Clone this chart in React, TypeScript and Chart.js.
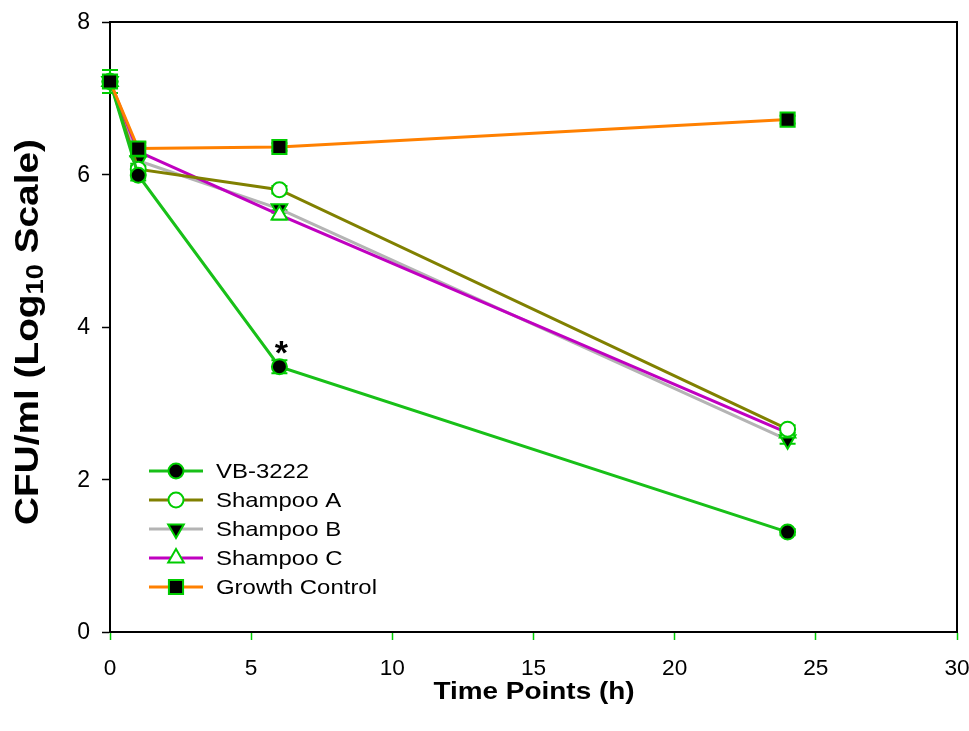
import React, { useEffect, useRef } from 'react';
import { Chart, registerables } from 'chart.js';

Chart.register(...registerables);

const timePoints = [0, 1, 6, 24];
const seriesNames = ['VB-3222', 'Shampoo A', 'Shampoo B', 'Shampoo C', 'Growth Control'];
const vb3222 = [7.22, 5.99, 3.48, 1.31];
const shampooA = [7.22, 6.07, 5.8, 2.66];
const shampooB = [7.22, 6.18, 5.55, 2.52];
const shampooC = [7.22, 6.3, 5.47, 2.61];
const growthControl = [7.22, 6.34, 6.36, 6.72];
const vb3222Err = [0.15, 0.07, 0.085, 0.04];
const shampooAErr = [0.15, 0.07, 0.05, 0.05];
const shampooBErr = [0.15, 0.07, 0.05, 0.05];
const shampooCErr = [0.15, 0.07, 0.06, 0.05];
const growthControlErr = [0.15, 0.08, 0.05, 0.05];
const xAxisTitle = 'Time Points (h)';
const yAxisTitleMain = 'CFU/ml (Log';
const yAxisTitleSub = '10';
const yAxisTitleEnd = ' Scale)';
const asteriskTime = 6;
const asteriskValue = 3.48;

const lineColors = ['#18c018', '#808000', '#b4b4b4', '#c000c0', '#ff8000'];
const markerFills = ['#000000', '#ffffff', '#000000', '#ffffff', '#000000'];
const markerStyles = ['circle', 'circle', 'triangle', 'triangle', 'rect'];
const markerRotations = [0, 0, 180, 0, 0];
const markerRadius = [7.5, 7.5, 9, 9, 10];
const drawOrder = [1, 2, 4, 3, 0];
const markerBorder = '#00cc00';
const FONT = "'Liberation Sans', Arial, sans-serif";
const STRETCH = 1.14;

const seriesValues = [vb3222, shampooA, shampooB, shampooC, growthControl];
const seriesErrors = [vb3222Err, shampooAErr, shampooBErr, shampooCErr, growthControlErr];

function drawMarker(ctx: CanvasRenderingContext2D, style: string, x: number, y: number, r: number, fill: string, stroke: string, rotation: number) {
  ctx.save();
  ctx.beginPath();
  if (style === 'circle') {
    ctx.arc(x, y, r, 0, Math.PI * 2);
  } else if (style === 'rect') {
    const s = r * Math.SQRT1_2;
    ctx.rect(x - s, y - s, 2 * s, 2 * s);
  } else if (style === 'triangle') {
    let rad = (rotation * Math.PI) / 180;
    const step = (2 * Math.PI) / 3;
    ctx.moveTo(x + Math.sin(rad) * r, y - Math.cos(rad) * r);
    rad += step;
    ctx.lineTo(x + Math.sin(rad) * r, y - Math.cos(rad) * r);
    rad += step;
    ctx.lineTo(x + Math.sin(rad) * r, y - Math.cos(rad) * r);
    ctx.closePath();
  }
  ctx.fillStyle = fill;
  ctx.fill();
  ctx.lineWidth = 2;
  ctx.strokeStyle = stroke;
  ctx.stroke();
  ctx.restore();
}

// draw text stretched horizontally
function stretchedText(ctx: CanvasRenderingContext2D, text: string, x: number, y: number, align: string, sx: number) {
  ctx.save();
  ctx.translate(x, y);
  ctx.scale(sx, 1);
  ctx.textAlign = align as CanvasTextAlign;
  ctx.fillText(text, 0, 0);
  ctx.restore();
}

const decorPlugin = {
  id: 'decor',
  beforeDatasetsDraw(chart: any) {
    const ctx = chart.ctx as CanvasRenderingContext2D;
    const xs = chart.scales.x;
    const ys = chart.scales.y;
    ctx.save();
    ctx.strokeStyle = markerBorder;
    ctx.lineWidth = 2;
    seriesValues.forEach((vals, si) => {
      vals.forEach((v, i) => {
        const e = seriesErrors[si][i];
        const px = xs.getPixelForValue(timePoints[i]);
        const y1 = ys.getPixelForValue(v + e);
        const y2 = ys.getPixelForValue(v - e);
        ctx.beginPath();
        ctx.moveTo(px, y1);
        ctx.lineTo(px, y2);
        ctx.moveTo(px - 8, y1);
        ctx.lineTo(px + 8, y1);
        ctx.moveTo(px - 8, y2);
        ctx.lineTo(px + 8, y2);
        ctx.stroke();
      });
    });
    ctx.restore();
  },
  afterDraw(chart: any) {
    const ctx = chart.ctx as CanvasRenderingContext2D;
    const a = chart.chartArea;
    const xs = chart.scales.x;
    const ys = chart.scales.y;
    ctx.save();
    // frame top & right
    ctx.strokeStyle = '#000000';
    ctx.lineWidth = 2;
    ctx.beginPath();
    ctx.moveTo(a.left, a.top);
    ctx.lineTo(a.right, a.top);
    ctx.lineTo(a.right, a.bottom);
    ctx.stroke();

    // x tick labels
    ctx.fillStyle = '#000000';
    ctx.font = `22px ${FONT}`;
    ctx.textBaseline = 'middle';
    xs.ticks.forEach((t: any) => {
      stretchedText(ctx, String(t.value), xs.getPixelForValue(t.value), 669, 'center', 1.03);
    });
    // y tick labels
    ctx.font = `23px ${FONT}`;
    ys.ticks.forEach((t: any) => {
      stretchedText(ctx, String(t.value), 90, ys.getPixelForValue(t.value) + 1, 'right', 1.0);
    });

    // asterisk
    ctx.font = `bold 34px ${FONT}`;
    ctx.textAlign = 'center';
    ctx.textBaseline = 'alphabetic';
    ctx.fillText('*', xs.getPixelForValue(asteriskTime) + 2, ys.getPixelForValue(asteriskValue) - 3);

    // legend
    const lx0 = 149;
    const lx1 = 203;
    const rows = [471, 500, 529, 558, 587];
    seriesNames.forEach((name, i) => {
      const y = rows[i];
      ctx.strokeStyle = lineColors[i];
      ctx.lineWidth = 3;
      ctx.beginPath();
      ctx.moveTo(lx0, y);
      ctx.lineTo(lx1, y);
      ctx.stroke();
      drawMarker(ctx, markerStyles[i], (lx0 + lx1) / 2, y, markerRadius[i], markerFills[i], markerBorder, markerRotations[i]);
      ctx.fillStyle = '#000000';
      ctx.font = `21px ${FONT}`;
      ctx.textBaseline = 'middle';
      stretchedText(ctx, name, 216, y + 1, 'left', STRETCH);
    });

    // x title
    ctx.font = `bold 24.5px ${FONT}`;
    ctx.textBaseline = 'middle';
    stretchedText(ctx, xAxisTitle, 534, 692, 'center', STRETCH);

    // y title with subscript (rotated; stretched along reading direction)
    ctx.translate(29, 332);
    ctx.rotate(-Math.PI / 2);
    ctx.scale(1.14, 1);
    const mainFont = `bold 34px ${FONT}`;
    const subFont = `bold 24px ${FONT}`;
    ctx.font = mainFont;
    const w1 = ctx.measureText(yAxisTitleMain).width;
    const w3 = ctx.measureText(yAxisTitleEnd).width;
    ctx.font = subFont;
    const w2 = ctx.measureText(yAxisTitleSub).width;
    const total = w1 + w2 + w3;
    let cx = -total / 2;
    ctx.textAlign = 'left';
    ctx.textBaseline = 'middle';
    ctx.font = mainFont;
    ctx.fillText(yAxisTitleMain, cx, 0);
    cx += w1;
    ctx.font = subFont;
    ctx.fillText(yAxisTitleSub, cx, 7);
    cx += w2;
    ctx.font = mainFont;
    ctx.fillText(yAxisTitleEnd, cx, 0);
    ctx.restore();
  },
};

export default function App() {
  const ref = useRef<HTMLCanvasElement | null>(null);
  useEffect(() => {
    if (!ref.current) return;
    const datasets = seriesNames.map((name, i) => ({
      label: name,
      data: timePoints.map((t, j) => ({ x: t, y: seriesValues[i][j] })),
      borderColor: lineColors[i],
      borderWidth: 3,
      backgroundColor: markerFills[i],
      pointBackgroundColor: markerFills[i],
      pointBorderColor: markerBorder,
      pointBorderWidth: 2,
      pointStyle: markerStyles[i],
      pointRotation: markerRotations[i],
      pointRadius: markerRadius[i],
      pointHoverRadius: markerRadius[i],
      tension: 0,
      fill: false,
      clip: false,
      order: drawOrder[i],
    }));
    const chart = new Chart(ref.current, {
      type: 'line',
      data: { datasets: datasets as any },
      plugins: [decorPlugin],
      options: {
        animation: false,
        responsive: false,
        devicePixelRatio: 1,
        layout: { padding: { top: 22, right: 12, left: 0, bottom: 0 } },
        plugins: { legend: { display: false }, tooltip: { enabled: false } },
        scales: {
          x: {
            type: 'linear',
            min: 0,
            max: 30,
            afterFit: (s: any) => { s.height = 99; s.paddingLeft = 0; s.paddingRight = 0; },
            ticks: { stepSize: 5, display: false },
            grid: { display: true, drawOnChartArea: false, drawTicks: true, tickLength: 8, tickColor: '#00cc00', tickWidth: 1.5, color: '#00cc00' },
            border: { display: true, color: '#000000', width: 2 },
          },
          y: {
            type: 'linear',
            min: 0,
            max: 8,
            afterFit: (s: any) => { s.width = 110; s.paddingTop = 0; s.paddingBottom = 0; },
            ticks: { stepSize: 2, display: false },
            grid: { display: true, drawOnChartArea: false, drawTicks: true, tickLength: 8, tickColor: '#000000', tickWidth: 1.5, color: '#000000' },
            border: { display: true, color: '#000000', width: 2 },
          },
        },
      } as any,
    });
    return () => chart.destroy();
  }, []);
  return (
    <div style={{ position: 'fixed', left: 0, top: 0, width: 969, height: 731, background: '#ffffff' }}>
      <canvas ref={ref} width={969} height={731} />
    </div>
  );
}
